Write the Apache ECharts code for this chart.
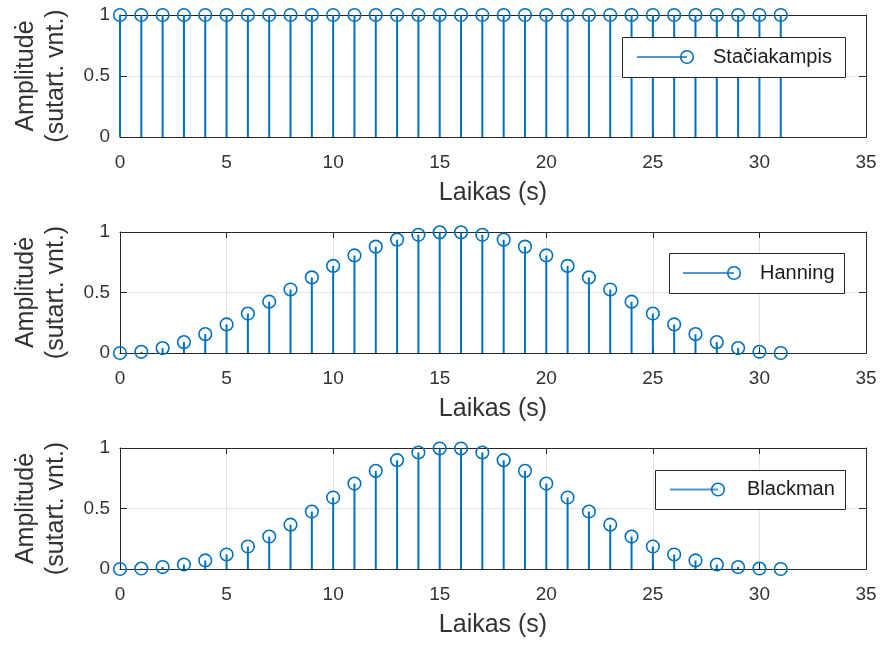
<!DOCTYPE html>
<html>
<head>
<meta charset="utf-8">
<script src="https://cdn.jsdelivr.net/npm/echarts@6/dist/echarts.min.js"></script>
<style>
html,body{margin:0;padding:0;background:#fff;}
#c{width:881px;height:646px;}
</style>
</head>
<body>
<div id="c"></div>
<script>
// ---- data ----
const sampleIndex = [0,1,2,3,4,5,6,7,8,9,10,11,12,13,14,15,16,17,18,19,20,21,22,23,24,25,26,27,28,29,30,31];
const rectValues = [1,1,1,1,1,1,1,1,1,1,1,1,1,1,1,1,1,1,1,1,1,1,1,1,1,1,1,1,1,1,1,1];
const hanningValues = [0,0.010,0.041,0.090,0.156,0.236,0.326,0.424,0.525,0.625,0.720,0.806,0.879,0.937,0.977,0.997,
                       0.997,0.977,0.937,0.879,0.806,0.720,0.625,0.525,0.424,0.326,0.236,0.156,0.090,0.041,0.010,0];
const blackmanValues = [0,0.004,0.016,0.037,0.071,0.120,0.186,0.268,0.366,0.475,0.591,0.706,0.811,0.899,0.963,0.996,
                        0.996,0.963,0.899,0.811,0.706,0.591,0.475,0.366,0.268,0.186,0.120,0.071,0.037,0.016,0.004,0];
const seriesNames = ['Stačiakampis','Hanning','Blackman'];
const xLabel = 'Laikas (s)';
const yLabel = 'Amplitudė\n(sutart. vnt.)';
const xTicks = {min:0, max:35, interval:5};
const yTicks = {min:0, max:1, interval:0.5};

const allValues = [rectValues, hanningValues, blackmanValues];
const BLUE = '#0072BD';
const INK = '#262626';
const TXT = '#333333';
const FONT = 'Liberation Sans, Arial, Helvetica, sans-serif';

const gridTops = [15, 232, 448];
const gridH = [122, 121, 121];

const grids = [], xAxes = [], yAxes = [], series = [];
for (let i = 0; i < 3; i++) {
  grids.push({left:120, right:15, top:gridTops[i], height:gridH[i], containLabel:false});
  xAxes.push({
    type:'value', gridIndex:i, position:'bottom', min:xTicks.min, max:xTicks.max, interval:xTicks.interval,
    name:xLabel, nameLocation:'middle', nameGap:44,
    nameTextStyle:{color:TXT, fontSize:25, fontFamily:FONT},
    axisLine:{show:true, onZero:false, lineStyle:{color:INK, width:1}},
    axisTick:{show:true, inside:true, length:6, lineStyle:{color:INK}},
    axisLabel:{color:TXT, fontSize:19, fontFamily:FONT, margin:16},
    splitLine:{show:true, lineStyle:{color:'#e3e3e3', width:1}}
  });
  xAxes.push({
    type:'value', gridIndex:i, position:'top', min:xTicks.min, max:xTicks.max, interval:xTicks.interval,
    axisLine:{show:true, onZero:false, lineStyle:{color:INK, width:1}},
    axisTick:{show:true, inside:true, length:6, lineStyle:{color:INK}},
    axisLabel:{show:false}, splitLine:{show:false}
  });
  yAxes.push({
    type:'value', gridIndex:i, position:'left', min:yTicks.min, max:yTicks.max, interval:yTicks.interval,
    name:yLabel, nameLocation:'middle', nameGap:49, nameRotate:90,
    nameTextStyle:{color:TXT, fontSize:25, fontFamily:FONT, lineHeight:30},
    axisLine:{show:true, onZero:false, lineStyle:{color:INK, width:1}},
    axisTick:{show:true, inside:true, length:7, lineStyle:{color:INK}},
    axisLabel:{color:TXT, fontSize:19, fontFamily:FONT, margin:10, formatter:v => String(v)},
    splitLine:{show:true, lineStyle:{color:'#e3e3e3', width:1}}
  });
  yAxes.push({
    type:'value', gridIndex:i, position:'right', min:yTicks.min, max:yTicks.max, interval:yTicks.interval,
    axisLine:{show:true, onZero:false, lineStyle:{color:INK, width:1}},
    axisTick:{show:true, inside:true, length:7, lineStyle:{color:INK}},
    axisLabel:{show:false}, splitLine:{show:false}
  });
  series.push({
    type:'custom', name:seriesNames[i], xAxisIndex:2*i, yAxisIndex:2*i, clip:false, z:5,
    data: sampleIndex.map((x, k) => [x, allValues[i][k]]),
    renderItem: function (params, api) {
      const x = api.value(0), y = api.value(1);
      const p0 = api.coord([x, 0]);
      const p1 = api.coord([x, y]);
      return {type:'group', children:[
        {type:'line', shape:{x1:p0[0], y1:p0[1], x2:p1[0], y2:p1[1]}, style:{stroke:BLUE, lineWidth:2}},
        {type:'circle', shape:{cx:p1[0], cy:p1[1], r:6.3}, style:{fill:'none', stroke:BLUE, lineWidth:1.6}}
      ]};
    }
  });
}

// legend boxes (MATLAB-style: line with marker at its end)
const legendBoxes = [
  {x:622, y:37, w:223, h:40, lx1:637, lx2:687, text:seriesNames[0], tx:713},
  {x:669, y:253, w:175, h:40, lx1:683, lx2:734, text:seriesNames[1], tx:760},
  {x:655, y:470, w:190, h:39, lx1:670, lx2:718, text:seriesNames[2], tx:747}
];
const graphic = [];
legendBoxes.forEach(b => {
  const cy = b.y + b.h / 2;
  graphic.push({type:'rect', z:100, shape:{x:b.x+0.5, y:b.y+0.5, width:b.w, height:b.h}, style:{fill:'#fff', stroke:INK, lineWidth:1}});
  graphic.push({type:'line', z:101, shape:{x1:b.lx1, y1:cy, x2:b.lx2, y2:cy}, style:{stroke:'#4a98d2', lineWidth:2}});
  graphic.push({type:'circle', z:101, shape:{cx:b.lx2, cy:cy, r:6.3}, style:{fill:'none', stroke:BLUE, lineWidth:1.6}});
  graphic.push({type:'text', z:101, x:b.tx, y:cy, style:{text:b.text, fill:'#1a1a1a', fontSize:20, fontFamily:FONT, verticalAlign:'middle', align:'left'}});
});

const chart = echarts.init(document.getElementById('c'), null, {renderer:'canvas'});
chart.setOption({
  animation:false,
  backgroundColor:'#fff',
  grid:grids, xAxis:xAxes, yAxis:yAxes, series:series, graphic:graphic
});
</script>
</body>
</html>
